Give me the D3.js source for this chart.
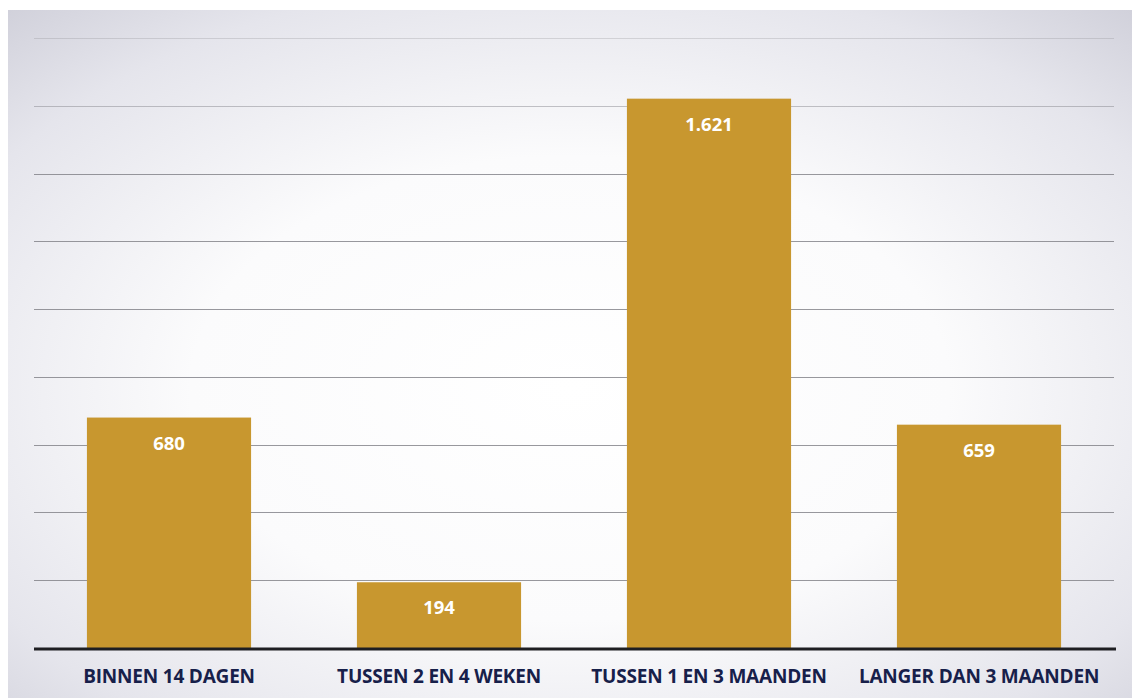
<!DOCTYPE html>
<html>
<head>
<meta charset="utf-8">
<script src="https://cdn.jsdelivr.net/npm/d3@7"></script>
<style>
  html, body { margin: 0; padding: 0; background: #ffffff; }
  svg { display: block; }
</style>
</head>
<body>
<div id="chart"></div>
<script>
// Aantal per wachttijdcategorie
const categories = ["BINNEN 14 DAGEN", "TUSSEN 2 EN 4 WEKEN", "TUSSEN 1 EN 3 MAANDEN", "LANGER DAN 3 MAANDEN"];
const values = [680, 194, 1621, 659];
const valueLabels = ["680", "194", "1.621", "659"];
const gridTicks = [200, 400, 600, 800, 1000, 1200, 1400, 1600, 1800];

const W = 1132, H = 698;
const panel = { x: 8, y: 10, w: 1124, h: 688 };
const margin = { left: 34, right: 18, top: 38, bottom: 50 };

const svg = d3.select("#chart").append("svg")
  .attr("width", W).attr("height", H);

const defs = svg.append("defs");
const grad = defs.append("radialGradient")
  .attr("id", "bg").attr("cx", "50%").attr("cy", "55%").attr("r", "75%");
grad.append("stop").attr("offset", "0%").attr("stop-color", "#ffffff");
grad.append("stop").attr("offset", "45%").attr("stop-color", "#fbfbfc");
grad.append("stop").attr("offset", "80%").attr("stop-color", "#e5e5ec");
grad.append("stop").attr("offset", "100%").attr("stop-color", "#d0d0da");

svg.append("rect")
  .attr("x", panel.x).attr("y", panel.y)
  .attr("width", panel.w).attr("height", panel.h)
  .attr("fill", "url(#bg)");

const x = d3.scaleBand()
  .domain(categories)
  .range([margin.left, W - margin.right])
  .paddingInner(0.392)
  .paddingOuter(0.196);

const y = d3.scaleLinear()
  .domain([0, 1800])
  .range([H - margin.bottom, margin.top]);

// horizontal gridlines
svg.append("g")
  .selectAll("line")
  .data(gridTicks)
  .join("line")
  .attr("x1", margin.left).attr("x2", W - margin.right)
  .attr("y1", d => Math.round(y(d)) + 0.5)
  .attr("y2", d => Math.round(y(d)) + 0.5)
  .attr("stroke", "#7e7e84")
  .attr("stroke-opacity", d => d >= 1800 ? 0.25 : (d >= 1600 ? 0.45 : 0.8))
  .attr("stroke-width", 1);

// bars
svg.append("g")
  .selectAll("rect")
  .data(values)
  .join("rect")
  .attr("x", (d, i) => x(categories[i]))
  .attr("y", d => y(d))
  .attr("width", x.bandwidth())
  .attr("height", d => y(0) - y(d))
  .attr("fill", "#c8972f");

// value labels
svg.append("g")
  .selectAll("text")
  .data(values)
  .join("text")
  .attr("x", (d, i) => x(categories[i]) + x.bandwidth() / 2)
  .attr("y", d => y(d) + 32)
  .attr("text-anchor", "middle")
  .attr("fill", "#ffffff")
  .attr("font-family", "'Open Sans', sans-serif")
  .attr("font-weight", 700)
  .attr("font-size", 18.5)
  .text((d, i) => valueLabels[i]);

// baseline
svg.append("line")
  .attr("x1", margin.left).attr("x2", W - margin.right + 2)
  .attr("y1", y(0) + 1).attr("y2", y(0) + 1)
  .attr("stroke", "#1e1e22")
  .attr("stroke-width", 3);

// category axis
const xAxis = svg.append("g")
  .attr("transform", `translate(0,${y(0)})`)
  .call(d3.axisBottom(x).tickSize(0).tickPadding(22));
xAxis.select(".domain").remove();
xAxis.selectAll("text")
  .attr("fill", "#17204a")
  .attr("font-family", "'Open Sans', sans-serif")
  .attr("font-weight", 700)
  .attr("font-size", 19)
  .attr("letter-spacing", "-0.2px");
</script>
</body>
</html>
